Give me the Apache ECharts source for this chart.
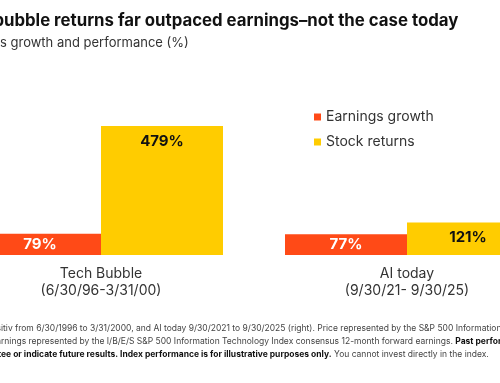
<!DOCTYPE html>
<html><head><meta charset="utf-8">
<script src="https://cdn.jsdelivr.net/npm/echarts@6/dist/echarts.min.js"></script>
<style>html,body{margin:0;padding:0;background:#fff}#c{width:500px;height:383px}</style>
</head><body><div id="c"></div>
<script>
const categories = ['Tech Bubble\n(6/30/96-3/31/00)', 'AI today\n(9/30/21- 9/30/25)'];
const earningsGrowth = [79, 77];
const stockReturns = [479, 121];
const seriesNames = ['Earnings growth', 'Stock returns'];

const FONT = 'Inter, "Noto Sans", sans-serif';
const chart = echarts.init(document.getElementById('c'));
function txt(x, y, text, opt) {
  return Object.assign({type: 'text', x: x, y: y, style: Object.assign({text: text, font: '10px ' + FONT, fill: '#333', textVerticalAlign: 'middle'}, opt || {})});
}
const FN = '8.5px ' + FONT, FB = 'bold 8.5px ' + FONT;
chart.setOption({
  animation: false,
  backgroundColor: '#fff',
  grid: {left: -52, right: -60, top: 120.35, bottom: 128, containLabel: false, outerBoundsMode: 'none'},
  legend: {
    orient: 'vertical', left: 309, top: 105, itemWidth: 7, itemHeight: 7, itemGap: 11,
    icon: 'rect', data: seriesNames,
    textStyle: {fontFamily: FONT, fontSize: 14, color: '#333'}
  },
  xAxis: {
    type: 'category', data: categories,
    axisLine: {show: false}, axisTick: {show: false},
    axisLabel: {margin: 10, fontFamily: FONT, fontSize: 14, color: '#333', lineHeight: 17, interval: 0}
  },
  yAxis: {type: 'value', min: 0, max: 500, show: false, splitLine: {show: false}},
  series: [
    {name: seriesNames[0], type: 'bar', data: earningsGrowth, barWidth: 122, barGap: '0%',
     itemStyle: {color: '#FF4A17'},
     label: {show: true, position: 'inside', formatter: '{c}%', color: '#fff', fontFamily: FONT, fontSize: 15, fontWeight: 'bold'}},
    {name: seriesNames[1], type: 'bar', data: stockReturns, barWidth: 122,
     itemStyle: {color: '#FFCC00'},
     label: {show: true, position: 'insideTop', distance: 8, formatter: '{c}%', color: '#111', fontFamily: FONT, fontSize: 15, fontWeight: 'bold'}}
  ],
  graphic: [
    txt(4, 21, 'Tech b', {font: 'bold 16.8px ' + FONT, fill: '#111', textAlign: 'right'}),
    txt(4, 21, 'ubble returns far outpaced earnings\u2013not the case today', {font: 'bold 16.8px ' + FONT, fill: '#111'}),
    txt(0, 43, 'Earning', {font: '13px ' + FONT, fill: '#333', textAlign: 'right'}),
    txt(0, 43, 's growth and performance (%)', {font: '13px ' + FONT, fill: '#333'}),
    txt(1, 328, 'Notes: The chart shows the tech bubble and AI-era stock returns versus earnings growth for the S&P 500 Information Technology Index, tech bubble (left) pos', {font: FN, fill: '#444', textAlign: 'right'}),
    txt(1, 328, 'itiv from 6/30/1996 to 3/31/2000, and AI today 9/30/2021 to 9/30/2025 (right). Price represented by the S&P 500 Information Technology Index.', {font: FN, fill: '#444'}),
    txt(1, 341, 'Technology Index and ea', {font: FN, fill: '#444', textAlign: 'right'}),
    txt(1, 341, '{n|rnings represented by the I/B/E/S S&P 500 Information Technology Index consensus 12-month forward earnings. }{b|Past performance is not a reliable indicator}', {
      rich: {n: {font: FN, fill: '#444'}, b: {font: FB, fill: '#111'}}, font: FN}),
    txt(1, 354, 'of current or future results. It is not possible to invest directly in an index. Indexes do not guarant', {font: FB, fill: '#111', textAlign: 'right'}),
    txt(1, 354, '{b|ee or indicate future results. Index performance is for illustrative purposes only.} {n|You cannot invest directly in the index.}', {
      rich: {n: {font: FN, fill: '#444'}, b: {font: FB, fill: '#111'}}, font: FN})
  ]
});
</script></body></html>
